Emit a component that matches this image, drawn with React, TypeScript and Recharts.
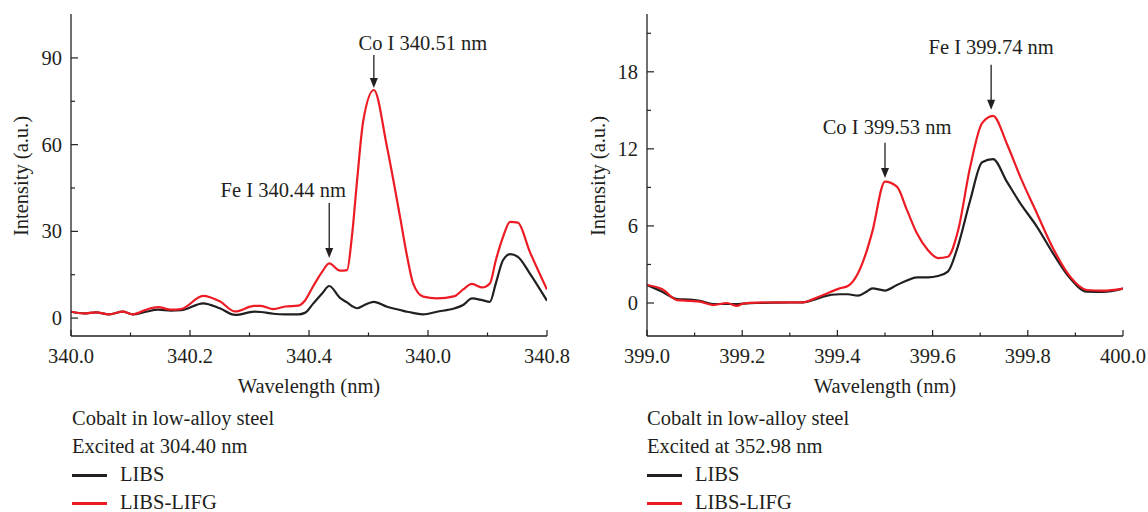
import { LineChart, Line, XAxis, YAxis, ReferenceLine } from 'recharts';

const INK = '#231f20';
const RED = '#ed1c24';
const FONT = '"Liberation Serif", "Times New Roman", serif';

// Co I 340.51 nm window, excited at 304.40 nm
const wavelengthA = [
  340.0, 340.022, 340.042, 340.064, 340.087, 340.104, 340.126, 340.146, 340.168, 340.185,
  340.222, 340.25, 340.276, 340.308, 340.319, 340.34, 340.36, 340.382, 340.393, 340.407,
  340.422, 340.434, 340.452, 340.464, 340.472, 340.481, 340.491, 340.509, 340.531, 340.553,
  340.565, 340.575, 340.592, 340.615, 340.645, 340.659, 340.674, 340.691, 340.704, 340.714,
  340.726, 340.738, 340.751, 340.771, 340.8,
];
const libsA = [
  2.2, 1.6, 2.0, 1.3, 2.2, 1.3, 2.2, 2.9, 2.6, 2.7,
  5.1, 3.4, 1.1, 2.2, 2.1, 1.5, 1.3, 1.3, 1.8, 5.0,
  8.5, 11.1, 7.0, 5.4, 4.2, 3.4, 4.3, 5.6, 3.9, 2.8,
  2.2, 1.8, 1.3, 2.2, 3.4, 4.5, 6.8, 6.2, 5.6, 12.0,
  20.0, 22.1, 21.2, 15.5, 6.0,
];
const lifgA = [
  2.2, 1.6, 2.0, 1.3, 2.2, 1.3, 2.9, 3.8, 2.9, 3.1,
  7.7, 5.8, 2.3, 4.2, 4.2, 3.1, 4.0, 4.3, 6.0, 11.0,
  16.0, 18.9, 16.4, 16.6, 28.0, 48.0, 68.0, 78.9, 59.3, 35.0,
  21.2, 12.0, 7.4, 6.8, 7.6, 9.9, 11.8, 10.6, 12.0, 20.0,
  28.0, 33.3, 33.0, 23.0, 9.9,
];
const xMajorA = [340.0, 340.2, 340.4, 340.6, 340.8];
const xLabelsA = ['340.0', '340.2', '340.4', '340.0', '340.8'];
const xMinorA = [340.1, 340.3, 340.5, 340.7];
const yMajorA = [0, 30, 60, 90];
const yMinorA = [15, 45, 75];

// Co I 399.53 nm / Fe I 399.74 nm window, excited at 352.98 nm
const wavelengthB = [
  399.0, 399.032, 399.063, 399.09, 399.111, 399.139, 399.168, 399.189, 399.202, 399.231,
  399.279, 399.328, 399.349, 399.37, 399.405, 399.422, 399.443, 399.462, 399.473, 399.5,
  399.525, 399.546, 399.567, 399.59, 399.611, 399.632, 399.653, 399.679, 399.704, 399.727,
  399.756, 399.784, 399.819, 399.853, 399.889, 399.924, 399.958, 400.0,
];
const libsB = [
  1.4, 0.88, 0.3, 0.26, 0.16, -0.08, -0.08, -0.08, -0.05, 0.0,
  0.03, 0.05, 0.23, 0.5, 0.68, 0.68, 0.57, 0.9, 1.14, 0.97,
  1.4, 1.75, 2.0, 2.0, 2.1, 2.44, 4.39, 8.0, 10.96, 11.2,
  9.45, 7.77, 5.95, 3.87, 1.92, 0.88, 0.86, 1.12,
];
const lifgB = [
  1.4, 1.07, 0.23, 0.16, 0.1, -0.16, 0.0, -0.23, -0.05, 0.03,
  0.05, 0.05, 0.3, 0.62, 1.14, 1.32, 2.3, 4.1, 5.5, 9.45,
  9.06, 7.25, 5.43, 4.13, 3.5, 3.6, 5.56, 10.6, 14.0, 14.57,
  12.4, 9.84, 6.99, 4.26, 2.05, 1.01, 0.96, 1.12,
];
const xMajorB = [399.0, 399.2, 399.4, 399.6, 399.8, 400.0];
const xLabelsB = ['399.0', '399.2', '399.4', '399.6', '399.8', '400.0'];
const xMinorB = [399.1, 399.3, 399.5, 399.7, 399.9];
const yMajorB = [0, 6, 12, 18];
const yMinorB = [3, 9, 15, 21];

const isMajor = (v: number, majors: number[]) => majors.findIndex((m) => Math.abs(m - v) < 1e-6);

const textStyle = { fontFamily: FONT, fontSize: 20.5, fill: INK };

function bottomTick(majors: number[], labels: string[]) {
  return (props: any) => {
    const { x, y, payload } = props;
    const idx = isMajor(payload.value, majors);
    return (
      <g>
        <line x1={x} x2={x} y1={y} y2={y - (idx >= 0 ? 6 : 3.5)} stroke={INK} strokeWidth={1.2} />
        {idx >= 0 && (
          <text x={x} y={y + 27} textAnchor="middle" style={textStyle}>
            {labels[idx]}
          </text>
        )}
      </g>
    );
  };
}

function topTick(majors: number[]) {
  return (props: any) => {
    const { x, y, payload } = props;
    const len = isMajor(payload.value, majors) >= 0 ? 6 : 3.5;
    return <line x1={x} x2={x} y1={y} y2={y + len} stroke={INK} strokeWidth={1.2} />;
  };
}

function leftTick(majors: number[]) {
  return (props: any) => {
    const { x, y, payload } = props;
    const major = isMajor(payload.value, majors) >= 0;
    return (
      <g>
        <line x1={x} x2={x + (major ? 7 : 4)} y1={y} y2={y} stroke={INK} strokeWidth={1.2} />
        {major && (
          <text x={x - 9} y={y + 7} textAnchor="end" style={textStyle}>
            {payload.value}
          </text>
        )}
      </g>
    );
  };
}

function rightTick(majors: number[]) {
  return (props: any) => {
    const { x, y, payload } = props;
    const len = isMajor(payload.value, majors) >= 0 ? 7 : 4;
    return <line x1={x} x2={x - len} y1={y} y2={y} stroke={INK} strokeWidth={1.2} />;
  };
}

// vertical arrow with its line label above, shifted sideways by dx
function arrowShape(label: string, dx: number, gap: number) {
  return (props: any) => {
    const { x1, y1, y2 } = props;
    return (
      <g>
        <line x1={x1} x2={x1} y1={y1} y2={y2 - 8} stroke={INK} strokeWidth={1.3} />
        <polygon points={`${x1 - 4},${y2 - 10} ${x1 + 4},${y2 - 10} ${x1},${y2}`} fill={INK} />
        <text x={x1 + dx} y={y1 - gap} textAnchor="middle" style={textStyle}>
          {label}
        </text>
      </g>
    );
  };
}

const yTitle = (x: number) => () => (
  <text transform={`translate(${x},176) rotate(-90)`} textAnchor="middle" style={textStyle}>
    Intensity (a.u.)
  </text>
);

const xTitle = (x: number) => () => (
  <text x={x} y={393} textAnchor="middle" style={textStyle}>
    Wavelength (nm)
  </text>
);

interface PanelProps {
  wavelength: number[];
  libs: number[];
  lifg: number[];
  xDomain: [number, number];
  yDomain: [number, number];
  xMajor: number[];
  xMinor: number[];
  xLabels: string[];
  yMajor: number[];
  yMinor: number[];
  axisWidth: number;
  rightMargin: number;
  titleX: number;
  yTitleX: number;
  children?: React.ReactNode;
}

function Panel(p: PanelProps) {
  const rows = p.wavelength.map((w, i) => ({ w, libs: p.libs[i], lifg: p.lifg[i] }));
  const xTicks = [...p.xMajor, ...p.xMinor].sort((a, b) => a - b);
  const yTicks = [...p.yMajor, ...p.yMinor].sort((a, b) => a - b);
  const axisLine = { stroke: INK, strokeWidth: 1.3 };
  return (
    <LineChart width={574} height={400} data={rows} margin={{ top: 14, right: p.rightMargin, bottom: 0, left: 0 }}>
      <XAxis
        dataKey="w"
        type="number"
        domain={p.xDomain}
        ticks={xTicks}
        allowDataOverflow
        height={64}
        tickSize={0}
        tickMargin={0}
        tickLine={false}
        axisLine={axisLine}
        tick={bottomTick(p.xMajor, p.xLabels)}
        interval={0}
        label={{ content: xTitle(p.titleX) }}
      />
      <XAxis
        xAxisId="top"
        orientation="top"
        type="number"
        domain={p.xDomain}
        ticks={xTicks}
        allowDataOverflow
        height={0}
        tickSize={0}
        tickMargin={0}
        tickLine={false}
        axisLine={axisLine}
        tick={topTick(p.xMajor)}
        interval={0}
      />
      <YAxis
        type="number"
        domain={p.yDomain}
        ticks={yTicks}
        allowDataOverflow
        width={p.axisWidth}
        tickSize={0}
        tickMargin={0}
        tickLine={false}
        axisLine={axisLine}
        tick={leftTick(p.yMajor)}
        interval={0}
        label={{ content: yTitle(p.yTitleX) }}
      />
      <YAxis
        yAxisId="right"
        orientation="right"
        type="number"
        domain={p.yDomain}
        ticks={yTicks}
        allowDataOverflow
        width={0}
        tickSize={0}
        tickMargin={0}
        tickLine={false}
        axisLine={axisLine}
        tick={rightTick(p.yMajor)}
        interval={0}
      />
      <Line dataKey="libs" type="monotone" stroke={INK} strokeWidth={2.2} dot={false} isAnimationActive={false} />
      <Line dataKey="lifg" type="monotone" stroke={RED} strokeWidth={2.2} dot={false} isAnimationActive={false} />
      {p.children}
    </LineChart>
  );
}

function Legend({ left, excitation }: { left: number; excitation: string }) {
  const row = { height: 28, lineHeight: '24px', whiteSpace: 'nowrap' as const };
  const swatch = (color: string) => (
    <span style={{ display: 'inline-block', width: 35, height: 2.6, background: color, verticalAlign: 'middle', marginRight: 13, position: 'relative', top: -1 }} />
  );
  return (
    <div style={{ position: 'absolute', left, top: 406, fontFamily: FONT, fontSize: 20.5, color: INK }}>
      <div style={row}>Cobalt in low-alloy steel</div>
      <div style={row}>Excited at {excitation}</div>
      <div style={row}>{swatch(INK)}LIBS</div>
      <div style={{ ...row, height: 24 }}>{swatch(RED)}LIBS-LIFG</div>
    </div>
  );
}

export default function App() {
  return (
    <div style={{ position: 'absolute', left: 0, top: 0, width: 1148, height: 512, background: '#fff', overflow: 'hidden' }}>
      <div style={{ position: 'absolute', left: 0, top: 0 }}>
        <Panel
          wavelength={wavelengthA}
          libs={libsA}
          lifg={lifgA}
          xDomain={[340.0, 340.8]}
          yDomain={[-6.2, 105.2]}
          xMajor={xMajorA}
          xMinor={xMinorA}
          xLabels={xLabelsA}
          yMajor={yMajorA}
          yMinor={yMinorA}
          axisWidth={71}
          rightMargin={27}
          titleX={309}
          yTitleX={28}
        >
          <ReferenceLine segment={[{ x: 340.434, y: 39.8 }, { x: 340.434, y: 20.8 }]} shape={arrowShape('Fe I 340.44 nm', -46, 6)} />
          <ReferenceLine segment={[{ x: 340.509, y: 91.0 }, { x: 340.509, y: 79.6 }]} shape={arrowShape('Co I 340.51 nm', 49, 5)} />
        </Panel>
      </div>
      <div style={{ position: 'absolute', left: 574, top: 0 }}>
        <Panel
          wavelength={wavelengthB}
          libs={libsB}
          lifg={lifgB}
          xDomain={[399.0, 400.0]}
          yDomain={[-2.57, 22.5]}
          xMajor={xMajorB}
          xMinor={xMinorB}
          xLabels={xLabelsB}
          yMajor={yMajorB}
          yMinor={yMinorB}
          axisWidth={73}
          rightMargin={25}
          titleX={311}
          yTitleX={31}
        >
          <ReferenceLine segment={[{ x: 399.5, y: 12.47 }, { x: 399.5, y: 9.74 }]} shape={arrowShape('Co I 399.53 nm', 2, 9)} />
          <ReferenceLine segment={[{ x: 399.723, y: 18.55 }, { x: 399.723, y: 15.04 }]} shape={arrowShape('Fe I 399.74 nm', 0, 11)} />
        </Panel>
      </div>
      <Legend left={72} excitation="304.40 nm" />
      <Legend left={647} excitation="352.98 nm" />
    </div>
  );
}
